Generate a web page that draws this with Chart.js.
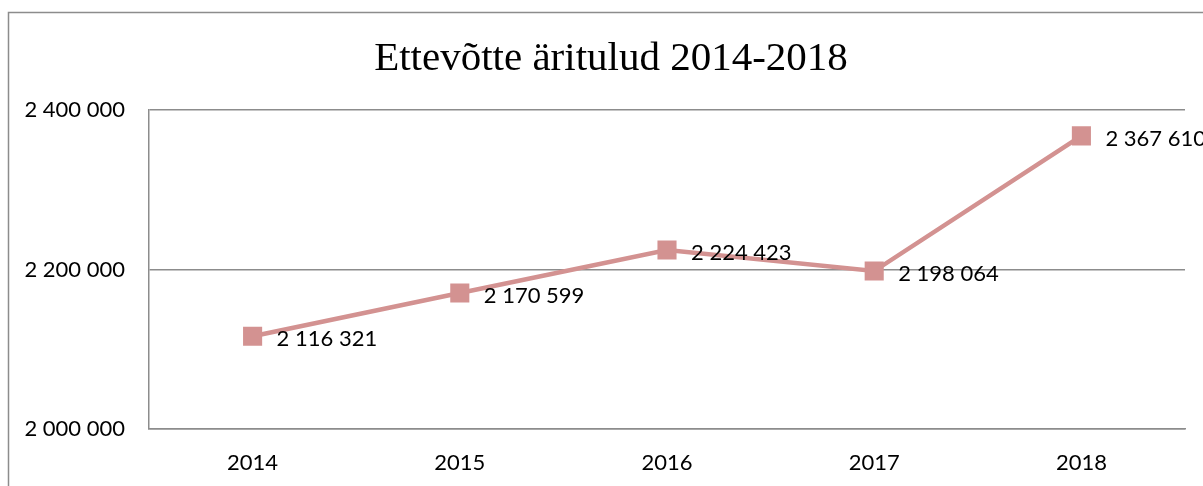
<!DOCTYPE html>
<html>
<head>
<meta charset="utf-8">
<script src="https://cdn.jsdelivr.net/npm/chart.js@4"></script>
<style>
  html, body { margin: 0; padding: 0; background: #fff; }
  #c { display: block; }
</style>
</head>
<body>
<canvas id="c" width="1203" height="486"></canvas>
<script>
const titleText = "Ettevõtte äritulud 2014-2018";
const years = ["2014", "2015", "2016", "2017", "2018"];
const revenue = [2116321, 2170599, 2224423, 2198064, 2367610];
const yMin = 2000000;
const yMax = 2400000;
const yStep = 200000;

function fmt(v) {
  return String(Math.round(v)).replace(/\B(?=(\d{3})+(?!\d))/g, " ");
}

const lineColor = "#d39291";
const gridColor = "#8c8c8c";
const labelFont = "22px Lato";

const framePlugin = {
  id: "frame",
  beforeDraw(chart) {
    const ctx = chart.ctx;
    ctx.save();
    ctx.fillStyle = "#fff";
    ctx.fillRect(0, 0, chart.width, chart.height);
    ctx.strokeStyle = gridColor;
    ctx.lineWidth = 1.5;
    ctx.strokeRect(8.5, 12.5, 3000, 3000);
    ctx.font = "41px 'Liberation Serif', 'Times New Roman', serif";
    ctx.fillStyle = "#000";
    ctx.textAlign = "center";
    ctx.textBaseline = "alphabetic";
    ctx.fillText(titleText, 611, 70);
    ctx.restore();
  }
};

const labelPlugin = {
  id: "valueLabels",
  afterDatasetsDraw(chart) {
    const ctx = chart.ctx;
    const meta = chart.getDatasetMeta(0);
    ctx.save();
    ctx.font = labelFont;
    ctx.fillStyle = "#000";
    ctx.textAlign = "left";
    ctx.textBaseline = "middle";
    meta.data.forEach((pt, i) => {
      ctx.fillText(fmt(revenue[i]), pt.x + 24, pt.y + 3);
    });
    ctx.restore();
  }
};

new Chart(document.getElementById("c"), {
  type: "line",
  data: {
    labels: years,
    datasets: [{
      data: revenue,
      borderColor: lineColor,
      backgroundColor: lineColor,
      borderWidth: 4.5,
      pointStyle: "rect",
      pointRadius: 13.5,
      pointHoverRadius: 13.5,
      pointBorderWidth: 0,
      pointBackgroundColor: lineColor,
      tension: 0,
      fill: false
    }]
  },
  options: {
    responsive: false,
    animation: false,
    events: [],
    layout: { padding: { left: 0, right: 18, top: 110, bottom: 0 } },
    plugins: {
      legend: { display: false },
      tooltip: { enabled: false },
      title: { display: false }
    },
    scales: {
      x: {
        offset: true,
        grid: { display: false, drawTicks: false },
        border: { display: true, color: gridColor, width: 1.5 },
        ticks: { color: "#000", font: { family: "Lato", size: 22 }, padding: 21, maxRotation: 0 },
        afterFit(scale) { scale.height = 57; }
      },
      y: {
        min: yMin,
        max: yMax,
        grid: { color: gridColor, lineWidth: 1.5, drawTicks: false },
        border: { display: true, color: gridColor, width: 1.5 },
        ticks: {
          stepSize: yStep,
          color: "#000",
          font: { family: "Lato", size: 22 },
          padding: 24,
          callback: (v) => fmt(v)
        },
        afterFit(scale) { scale.width = 149; }
      }
    }
  },
  plugins: [framePlugin, labelPlugin]
});
</script>
</body>
</html>
